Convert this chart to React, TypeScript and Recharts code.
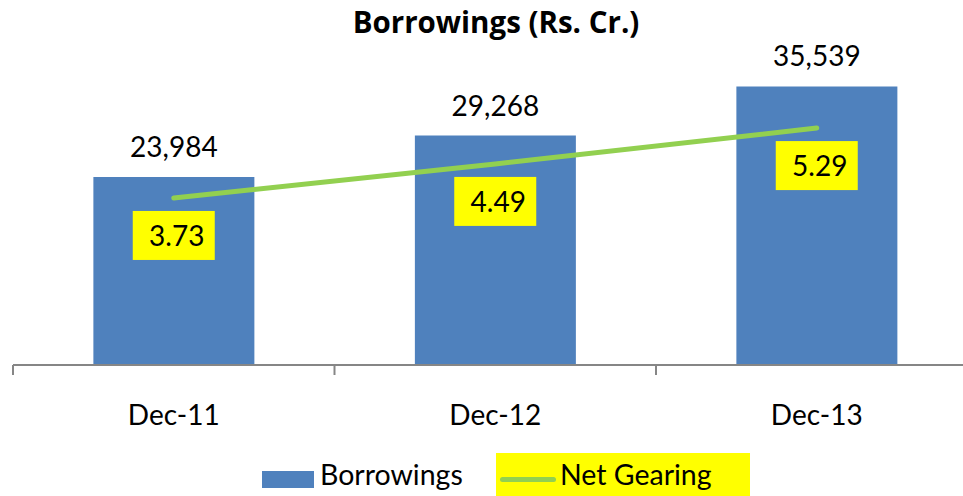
import React from 'react';
import { ComposedChart, Bar, Line, XAxis, YAxis, LabelList, Legend } from 'recharts';

const categories = ['Dec-11', 'Dec-12', 'Dec-13'];
const borrowings = [23984, 29268, 35539];
const netGearing = [3.73, 4.49, 5.29];
const seriesNames = ['Borrowings', 'Net Gearing'];
const title = 'Borrowings (Rs. Cr.)';

const data = categories.map((c, i) => ({ name: c, borrowings: borrowings[i], gearing: netGearing[i] }));

const FONT = 'Lato, "Open Sans", sans-serif';
const FS = 28;
const BLUE = '#4F81BD';
const GREEN = '#92D050';
const YELLOW = '#FFFF00';

const BarValueLabel = (props: any) => {
  const { x, y, width, value } = props;
  return (
    <text x={x + width / 2} y={y - 20} textAnchor="middle" fontFamily={FONT} fontSize={FS} fill="#000">
      {Number(value).toLocaleString('en-US')}
    </text>
  );
};

const GearingLabel = (props: any) => {
  const { x, y, value } = props;
  return (
    <g>
      <rect x={x - 41} y={y + 13} width={82} height={49} fill={YELLOW} />
      <text x={x + 3} y={y + 48} textAnchor="middle" fontFamily={FONT} fontSize={FS} fill="#000">
        {Number(value).toFixed(2)}
      </text>
    </g>
  );
};

const CategoryTick = (props: any) => {
  const { x, y, payload } = props;
  const half = payload && payload.offset ? payload.offset : 160.75;
  return (
    <g>
      <line x1={x - half} y1={y - 8} x2={x - half} y2={y + 2} stroke="#868686" strokeWidth={2} />
      <text x={x} y={y + 52} textAnchor="middle" fontFamily={FONT} fontSize={FS} fill="#000">
        {payload.value}
      </text>
    </g>
  );
};

const LegendContent = () => (
  <div style={{ position: 'relative', width: 963, height: 43, fontFamily: FONT, fontSize: 28.5, color: '#000' }}>
    <div style={{ position: 'absolute', left: 262, top: 18, width: 52, height: 17, background: BLUE }} />
    <div style={{ position: 'absolute', left: 320, top: 35, transform: 'translateY(-100%)', lineHeight: 1, whiteSpace: 'nowrap' }}>
      <span>{seriesNames[0]}</span>
    </div>
    <div style={{ position: 'absolute', left: 496, top: 0, width: 254, height: 43, background: YELLOW }} />
    <div style={{ position: 'absolute', left: 500, top: 24, width: 56, height: 5, borderRadius: 3, background: GREEN }} />
    <div style={{ position: 'absolute', left: 560, top: 35, transform: 'translateY(-100%)', lineHeight: 1, whiteSpace: 'nowrap' }}>
      <span>{seriesNames[1]}</span>
    </div>
  </div>
);

export default function App() {
  return (
    <div style={{ position: 'absolute', left: 0, top: 0, width: 963, height: 496, overflow: 'hidden', background: '#fff' }}>
      <svg width={963} height={50} style={{ position: 'absolute', left: 0, top: 0 }}>
        <text x={496} y={33} textAnchor="middle" fontFamily='"Open Sans", Lato, sans-serif' fontWeight={700} fontSize={29.5} fill="#000">
          {title}
        </text>
      </svg>
      <ComposedChart
        width={990}
        height={496}
        data={data}
        margin={{ top: 51.5, right: 12.5, bottom: 71, left: 13 }}
        barCategoryGap="25%"
        style={{ position: 'absolute', left: 0, top: 0 }}
      >
        <XAxis
          dataKey="name"
          height={60}
          axisLine={{ stroke: '#868686', strokeWidth: 2 }}
          tickLine={false}
          tick={<CategoryTick />}
          interval={0}
        />
        <YAxis yAxisId="left" hide domain={[0, 40000]} />
        <YAxis yAxisId="right" orientation="right" hide domain={[0, 7]} />
        <Legend
          verticalAlign="bottom"
          content={<LegendContent />}
          wrapperStyle={{ left: 0, top: 453, width: 963, height: 0, bottom: 'auto' }}
        />
        <Bar yAxisId="left" dataKey="borrowings" name={seriesNames[0]} fill={BLUE} isAnimationActive={false}>
          <LabelList dataKey="borrowings" content={<BarValueLabel />} />
        </Bar>
        <Line
          yAxisId="right"
          dataKey="gearing"
          name={seriesNames[1]}
          stroke={GREEN}
          strokeWidth={5}
          strokeLinecap="round"
          dot={false}
          activeDot={false}
          isAnimationActive={false}
        >
          <LabelList dataKey="gearing" content={<GearingLabel />} />
        </Line>
      </ComposedChart>
    </div>
  );
}
